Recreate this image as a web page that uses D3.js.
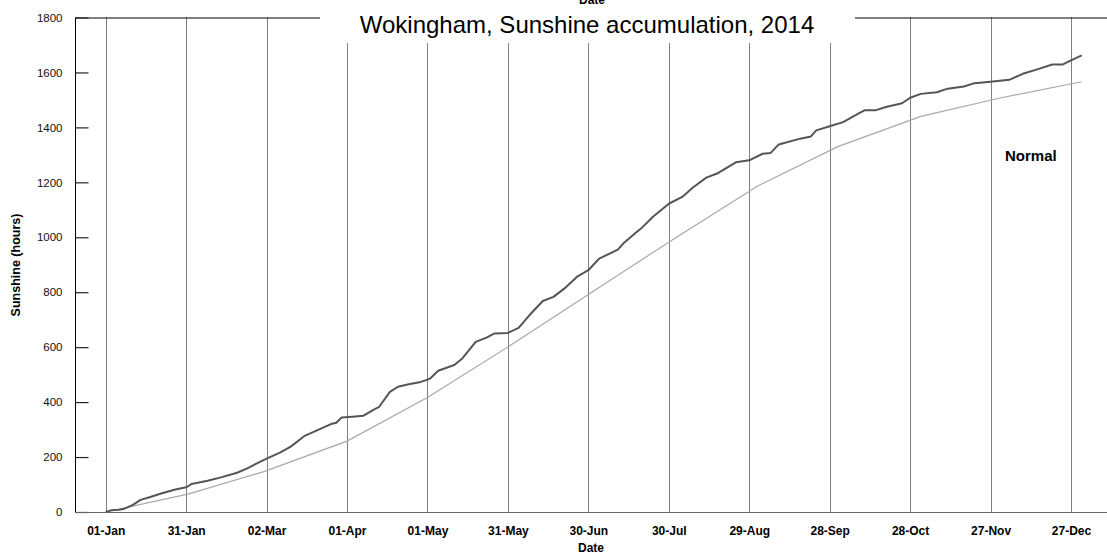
<!DOCTYPE html>
<html>
<head>
<meta charset="utf-8">
<script src="https://cdn.jsdelivr.net/npm/d3@7"></script>
<style>
  body { margin: 0; background: #fff; }
  svg { display: block; font-family: "Liberation Sans", Arial, sans-serif; }
</style>
</head>
<body>
<div id="chart"></div>
<script>
(function () {

	// day of year (0 = 01-Jan) and accumulated sunshine, 2014
	var actualDay = [0, 2, 5, 7, 10, 13, 16, 21, 26, 30, 32, 38, 43, 49, 53, 56, 60, 65, 69, 74,
		79, 84, 86, 88, 92, 96, 100, 102, 106, 109, 113, 117, 120, 121, 124, 130, 133, 138, 142, 145,
		150, 154, 158, 163, 167, 171, 176, 180, 184, 191, 193, 198, 200, 204, 210, 215, 219, 224, 228, 235,
		240, 245, 248, 251, 259, 263, 265, 270, 275, 281, 283, 287, 291, 297, 300, 304, 310, 314, 320, 324,
		330, 337, 342, 348, 353, 357, 360, 364];
	var actualHours = [0, 6, 8, 12, 25, 44, 53, 68, 82, 90, 102, 114, 126, 143, 160, 175, 194, 216, 238, 276,
		298, 320, 325, 344, 347, 350, 373, 383, 437, 456, 465, 472, 482, 486, 514, 535, 559, 619, 635, 650,
		652, 670, 716, 768, 783, 813, 858, 880, 922, 955, 977, 1019, 1035, 1074, 1122, 1147, 1181, 1217, 1232, 1273,
		1280, 1304, 1307, 1338, 1359, 1367, 1389, 1404, 1419, 1452, 1462, 1462, 1474, 1488, 1508, 1522, 1528, 1541, 1549, 1561,
		1566, 1573, 1595, 1613, 1629, 1629, 1644, 1662];

	// normal: cumulative at month starts
	var normalDate = ["2014-01-01", "2014-02-01", "2014-03-01", "2014-04-01", "2014-05-01", "2014-06-01", "2014-07-01",
		"2014-08-01", "2014-09-01", "2014-10-01", "2014-11-01", "2014-12-01", "2014-12-31"];
	var normalHours = [0, 66, 147, 258, 417, 607, 798, 995, 1186, 1330, 1440, 1508, 1566];

	var xTickLabels = ["01-Jan", "31-Jan", "02-Mar", "01-Apr", "01-May", "31-May", "30-Jun",
		"30-Jul", "29-Aug", "28-Sep", "28-Oct", "27-Nov", "27-Dec"];
	var yTicks = [0, 200, 400, 600, 800, 1000, 1200, 1400, 1600, 1800];

	var width = 1107, height = 557;
	var left = 75, top = 17.5, bottom = 512;

	var parseTick = d3.timeParse("%d-%b-%Y"),
		parseDate = d3.timeParse("%Y-%m-%d"),
		jan1 = new Date(2014, 0, 1);

	var tickDates = xTickLabels.map(function (d) { return parseTick(d + "-2014"); });

	var actual = actualDay.map(function (d, i) {
		return { date: d3.timeDay.offset(jan1, d), v: actualHours[i] };
	});
	var normal = normalDate.map(function (d, i) {
		return { date: parseDate(d), v: normalHours[i] };
	});

	var svg = d3.select("#chart")
		.append("svg")
		.attr("width", width)
		.attr("height", height);

	var x = d3.scaleTime()
		.domain([tickDates[0], tickDates[tickDates.length - 1]])
		.range([105.7, 1071]);

	var y = d3.scaleLinear()
		.domain([0, 1800])
		.range([bottom, top]);

	// vertical dotted grid
	svg.selectAll(".grid")
		.data(tickDates)
		.enter().append("line")
		.attr("class", "grid")
		.attr("x1", function (d) { return Math.round(x(d)) + 0.5; })
		.attr("x2", function (d) { return Math.round(x(d)) + 0.5; })
		.attr("y1", top)
		.attr("y2", bottom)
		.attr("stroke", "#000")
		.attr("stroke-width", 1)
		.attr("stroke-dasharray", "1,1");

	// frame
	svg.append("line")
		.attr("x1", left).attr("x2", width)
		.attr("y1", top + 0.5).attr("y2", top + 0.5)
		.attr("stroke", "#000");
	svg.append("line")
		.attr("x1", left + 0.5).attr("x2", left + 0.5)
		.attr("y1", top).attr("y2", bottom)
		.attr("stroke", "#000");

	// y axis, ticks pointing inward
	var yAxis = svg.append("g")
		.attr("transform", "translate(" + (left + 0.5) + ",0)")
		.call(d3.axisRight(y).tickValues(yTicks).tickSize(13).tickFormat(d3.format("d")));
	yAxis.select(".domain").remove();
	yAxis.selectAll(".tick line").attr("stroke", "#222").attr("stroke-width", 1.2);
	yAxis.selectAll(".tick text")
		.attr("x", -13)
		.attr("text-anchor", "end")
		.attr("font-size", "11.5px")
		.attr("font-family", "'Liberation Sans', Arial, sans-serif")
		.attr("fill", "#111");

	// x axis
	var xAxis = svg.append("g")
		.attr("transform", "translate(0," + bottom + ")")
		.call(d3.axisBottom(x).tickValues(tickDates).tickSize(0).tickPadding(14).tickFormat(d3.timeFormat("%d-%b")));
	xAxis.select(".domain").remove();
	xAxis.selectAll(".tick text")
		.attr("font-size", "12px")
		.attr("font-weight", "bold")
		.attr("font-family", "'Liberation Sans', Arial, sans-serif")
		.attr("fill", "#000");

	svg.append("line")
		.attr("x1", left).attr("x2", width)
		.attr("y1", bottom + 0.5).attr("y2", bottom + 0.5)
		.attr("stroke", "#666")
		.attr("stroke-width", 1.2);

	var line = d3.line()
		.x(function (d) { return x(d.date); })
		.y(function (d) { return y(d.v); });

	svg.append("path")
		.datum(normal)
		.attr("fill", "none")
		.attr("stroke", "#a8a8a8")
		.attr("stroke-width", 1.2)
		.attr("d", line);

	svg.append("path")
		.datum(actual)
		.attr("fill", "none")
		.attr("stroke", "#555")
		.attr("stroke-width", 2)
		.attr("stroke-linejoin", "round")
		.attr("d", line);

	// title box hides top of frame and grid
	svg.append("rect")
		.attr("x", 320).attr("y", 0)
		.attr("width", 535).attr("height", 43)
		.attr("fill", "#fff");

	svg.append("text")
		.attr("x", 587).attr("y", 33)
		.attr("text-anchor", "middle")
		.attr("font-size", "24px")
		.text("Wokingham, Sunshine accumulation, 2014");

	svg.append("text")
		.attr("x", 592).attr("y", 4)
		.attr("text-anchor", "middle")
		.attr("font-size", "12px")
		.attr("font-weight", "bold")
		.text("Date");

	svg.append("text")
		.attr("x", 591).attr("y", 552)
		.attr("text-anchor", "middle")
		.attr("font-size", "12px")
		.attr("font-weight", "bold")
		.text("Date");

	svg.append("text")
		.attr("transform", "translate(20,265) rotate(-90)")
		.attr("text-anchor", "middle")
		.attr("font-size", "12.5px")
		.attr("font-weight", "bold")
		.text("Sunshine (hours)");

	svg.append("text")
		.attr("x", 1005).attr("y", 161)
		.attr("font-size", "15px")
		.attr("font-weight", "bold")
		.text("Normal");

})();
</script>
</body>
</html>
